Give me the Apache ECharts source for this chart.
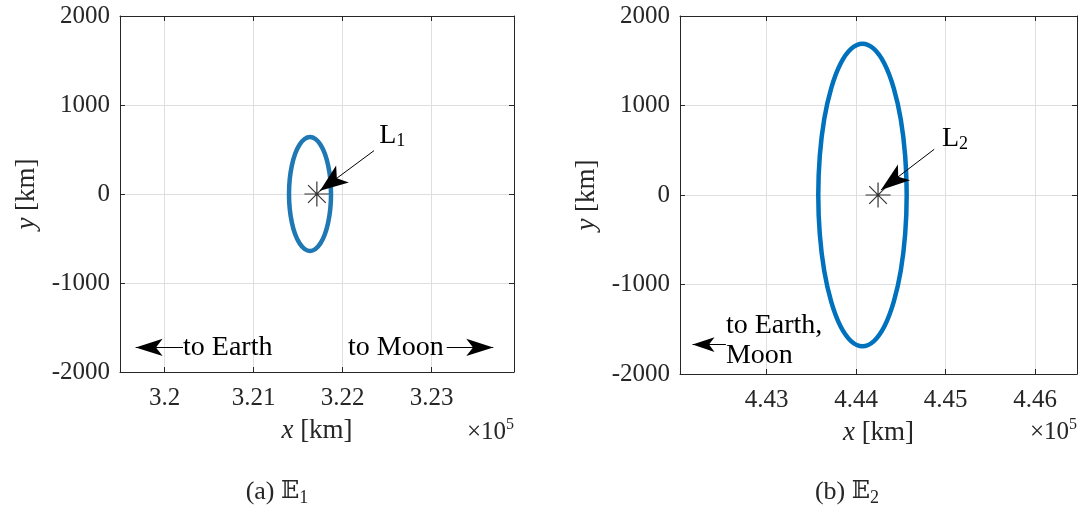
<!DOCTYPE html>
<html>
<head>
<meta charset="utf-8">
<script src="https://cdn.jsdelivr.net/npm/echarts@6/dist/echarts.min.js"></script>
<style>
  html, body { margin: 0; padding: 0; background: #ffffff; }
  #chart { width: 1079px; height: 507px; }
</style>
</head>
<body>
<div id="chart"></div>
<script>
// Planar periodic orbits about the Earth–Moon L1 and L2 points, rotating frame, km.
const lagrangeL1 = [321710, 0];
const lagrangeL2 = [444244, 0];

// Orbit about L1 (panel a)
const orbitE1X = [321869, 321861, 321837, 321800, 321751, 321694, 321633, 321572, 321515, 321466, 321429, 321405,
                  321397, 321405, 321429, 321466, 321515, 321572, 321633, 321694, 321751, 321800, 321837, 321861];
const orbitE1Y = [0, 166, 320, 453, 554, 618, 640, 618, 554, 453, 320, 166,
                  0, -166, -320, -453, -554, -618, -640, -618, -554, -453, -320, -166];

// Orbit about L2 (panel b)
const orbitE2X = [444564, 444547, 444498, 444419, 444317, 444198, 444070, 443942, 443823, 443721, 443642, 443593,
                  443576, 443593, 443642, 443721, 443823, 443942, 444070, 444198, 444317, 444419, 444498, 444547];
const orbitE2Y = [0, 437, 845, 1195, 1464, 1632, 1690, 1632, 1464, 1195, 845, 437,
                  0, -437, -845, -1195, -1464, -1632, -1690, -1632, -1464, -1195, -845, -437];

// Axis ticks and labels (x labels are in units of 1e5 km)
const xTickValuesA = [320000, 321000, 322000, 323000];
const xTickLabelsA = ['3.2', '3.21', '3.22', '3.23'];
const xTickValuesB = [443000, 444000, 445000, 446000];
const xTickLabelsB = ['4.43', '4.44', '4.45', '4.46'];
const yTickValues = [-2000, -1000, 0, 1000, 2000];
const yTickLabels = ['-2000', '-1000', '0', '1000', '2000'];
const xRangeA = [319498, 323925];
const xRangeB = [442031, 446467];
const yRange = [-2000, 2000];

// Annotation anchors (data coordinates)
const arrowL1 = [[322352, 487], [321745, 37]];
const arrowL2 = [[444872, 511], [444276, 56]];
const arrowToEarthA = [[320206, -1724], [319674, -1724]];
const arrowToMoonA = [[323169, -1724], [323692, -1724]];
const arrowToEarthB = [[442544, -1671], [442171, -1671]];
const labelL1At = [322411, 655];
const labelL2At = [444958, 634];
const labelToEarthAt = [320206, -1724];
const labelToMoonAt = [322060, -1724];
const labelToEarthMoonAt = [442544, -1631];

const FONT = '"Liberation Serif", "DejaVu Serif", serif';
const BB_FONT = '"DejaVu Serif", "DejaVu Sans", serif';
const INK = '#262626';
const GRID_COLOR = '#dfdfdf';
const FS = 25;
const NAME_FS = 27;
const NOTE_FS = 28;

// closed loop: repeat the first two points so the smoothed path joins cleanly
function loop(xs, ys) {
  const pts = xs.map((x, i) => [x, ys[i]]);
  return pts.concat([pts[0], pts[1]]);
}

function labelFor(values, labels) {
  return v => {
    const i = values.findIndex(t => Math.abs(t - v) < 1e-6);
    return i >= 0 ? labels[i] : '';
  };
}

const richSub = {
  s: { fontFamily: FONT, fontSize: 18, lineHeight: 18, verticalAlign: 'bottom', color: '#000' },
  i: { fontFamily: FONT, fontStyle: 'italic', fontSize: NAME_FS, color: INK },
  bb: { fontFamily: BB_FONT, fontSize: 24, lineHeight: 30, color: '#000' }
};

function xAxisPair(gridIndex, range, ticks, labels) {
  const common = {
    gridIndex, type: 'value', min: range[0], max: range[1],
    axisLine: { show: true, onZero: false, lineStyle: { color: INK, width: 1 } },
    axisTick: { show: true, inside: true, length: 5, customValues: ticks, lineStyle: { color: INK } }
  };
  return [
    Object.assign({}, common, {
      position: 'bottom',
      axisLabel: { show: true, customValues: ticks, formatter: labelFor(ticks, labels),
                   fontFamily: FONT, fontSize: FS, color: INK, margin: 14 },
      splitLine: { show: true, lineStyle: { color: GRID_COLOR, width: 1 } },
      name: '{i|x} [km]', nameLocation: 'middle', nameGap: 45,
      nameTextStyle: { fontFamily: FONT, fontSize: NAME_FS, color: INK, rich: richSub }
    }),
    Object.assign({}, common, {
      position: 'top',
      axisLabel: { show: false },
      splitLine: { show: false }
    })
  ];
}

function yAxisPair(gridIndex) {
  const common = {
    gridIndex, type: 'value', min: yRange[0], max: yRange[1], interval: 1000,
    axisLine: { show: true, onZero: false, lineStyle: { color: INK, width: 1 } },
    axisTick: { show: true, inside: true, length: 5, lineStyle: { color: INK } }
  };
  return [
    Object.assign({}, common, {
      position: 'left',
      axisLabel: { show: true, formatter: labelFor(yTickValues, yTickLabels),
                   fontFamily: FONT, fontSize: FS, color: INK, margin: 10 },
      splitLine: { show: true, lineStyle: { color: GRID_COLOR, width: 1 } },
      name: '{i|y} [km]', nameLocation: 'middle', nameGap: 80, nameRotate: 90,
      nameTextStyle: { fontFamily: FONT, fontSize: NAME_FS, color: INK, rich: richSub }
    }),
    Object.assign({}, common, {
      position: 'right',
      axisLabel: { show: false },
      splitLine: { show: false }
    })
  ];
}

// straight annotation arrows with a filled notched head at the far end
function arrowLines(pairs, head) {
  return {
    silent: true,
    symbol: ['none', 'arrow'],
    lineStyle: { color: '#000', width: 1, type: 'solid' },
    itemStyle: { color: '#000' },
    label: { show: false },
    emphasis: { disabled: true },
    animation: false,
    data: pairs.map(p => [
      { coord: p[0], symbol: 'none', symbolSize: 1 },
      { coord: p[1], symbol: 'arrow', symbolSize: head, symbolKeepAspect: false }
    ])
  };
}

function textMarks(items) {
  return {
    silent: true,
    symbol: 'circle',
    symbolSize: 0,
    itemStyle: { color: 'transparent' },
    emphasis: { disabled: true },
    animation: false,
    data: items.map(it => ({
      coord: it.at,
      label: {
        show: true, position: 'right', distance: 0, formatter: it.text,
        fontFamily: FONT, fontSize: NOTE_FS, lineHeight: it.lineHeight || 30, color: '#000',
        align: 'left', rich: richSub
      }
    }))
  };
}

const asterisk = 'path://M0,-10L0,10M-10,0L10,0M-7.07,-7.07L7.07,7.07M-7.07,7.07L7.07,-7.07';

const [xA, xAtop] = xAxisPair(0, xRangeA, xTickValuesA, xTickLabelsA);
const [xB, xBtop] = xAxisPair(1, xRangeB, xTickValuesB, xTickLabelsB);
const [yA, yAright] = yAxisPair(0);
const [yB, yBright] = yAxisPair(1);

const option = {
  animation: false,
  backgroundColor: '#ffffff',
  grid: [
    { left: 120, top: 16, width: 394, height: 356 },
    { left: 680, top: 16, width: 397, height: 358 }
  ],
  xAxis: [xA, xAtop, xB, xBtop],
  yAxis: [yA, yAright, yB, yBright],
  series: [
    {
      type: 'line', xAxisIndex: 0, yAxisIndex: 0,
      data: loop(orbitE1X, orbitE1Y), smooth: 0.4, showSymbol: false, symbol: 'none',
      lineStyle: { color: '#1f77b4', width: 4.5 }, silent: true,
      markLine: arrowLines([arrowToEarthA, arrowToMoonA], [13, 27]),
      markPoint: textMarks([
        { at: labelToEarthAt, text: 'to Earth' },
        { at: labelToMoonAt, text: 'to Moon' }
      ])
    },
    {
      type: 'scatter', xAxisIndex: 0, yAxisIndex: 0,
      data: [lagrangeL1], symbol: asterisk, symbolSize: 25, symbolKeepAspect: true,
      itemStyle: { color: 'transparent', borderColor: '#000', borderWidth: 1.2 }, silent: true,
      markLine: arrowLines([arrowL1], [16, 28]),
      markPoint: textMarks([{ at: labelL1At, text: 'L{s|1}' }])
    },
    {
      type: 'line', xAxisIndex: 2, yAxisIndex: 2,
      data: loop(orbitE2X, orbitE2Y), smooth: 0.4, showSymbol: false, symbol: 'none',
      lineStyle: { color: '#0072bd', width: 4.5 }, silent: true,
      markLine: arrowLines([arrowToEarthB], [11, 22]),
      markPoint: textMarks([{ at: labelToEarthMoonAt, text: 'to Earth,\nMoon', lineHeight: 30 }])
    },
    {
      type: 'scatter', xAxisIndex: 2, yAxisIndex: 2,
      data: [lagrangeL2], symbol: asterisk, symbolSize: 25, symbolKeepAspect: true,
      itemStyle: { color: 'transparent', borderColor: '#000', borderWidth: 1.2 }, silent: true,
      markLine: arrowLines([arrowL2], [15, 29]),
      markPoint: textMarks([{ at: labelL2At, text: 'L{s|2}' }])
    }
  ],
  graphic: [
    { type: 'text', silent: true, x: 514, y: 432,
      style: { text: '×10{s|5}', fontFamily: FONT, fontSize: FS, lineHeight: 30, fill: INK,
               align: 'right', verticalAlign: 'middle',
               rich: { s: { fontFamily: FONT, fontSize: 16, lineHeight: 16, verticalAlign: 'top', color: INK } } } },
    { type: 'text', silent: true, x: 1077, y: 432,
      style: { text: '×10{s|5}', fontFamily: FONT, fontSize: FS, lineHeight: 30, fill: INK,
               align: 'right', verticalAlign: 'middle',
               rich: { s: { fontFamily: FONT, fontSize: 16, lineHeight: 16, verticalAlign: 'top', color: INK } } } },
    { type: 'text', silent: true, x: 277, y: 492,
      style: { text: '(a) {bb|𝔼}{s|1}', fontFamily: FONT, fontSize: 26, lineHeight: 30, fill: INK,
               align: 'center', verticalAlign: 'middle', rich: richSub } },
    { type: 'text', silent: true, x: 847, y: 492,
      style: { text: '(b) {bb|𝔼}{s|2}', fontFamily: FONT, fontSize: 26, lineHeight: 30, fill: INK,
               align: 'center', verticalAlign: 'middle', rich: richSub } }
  ]
};

const chart = echarts.init(document.getElementById('chart'), null, { renderer: 'canvas' });
chart.setOption(option);
</script>
</body>
</html>
